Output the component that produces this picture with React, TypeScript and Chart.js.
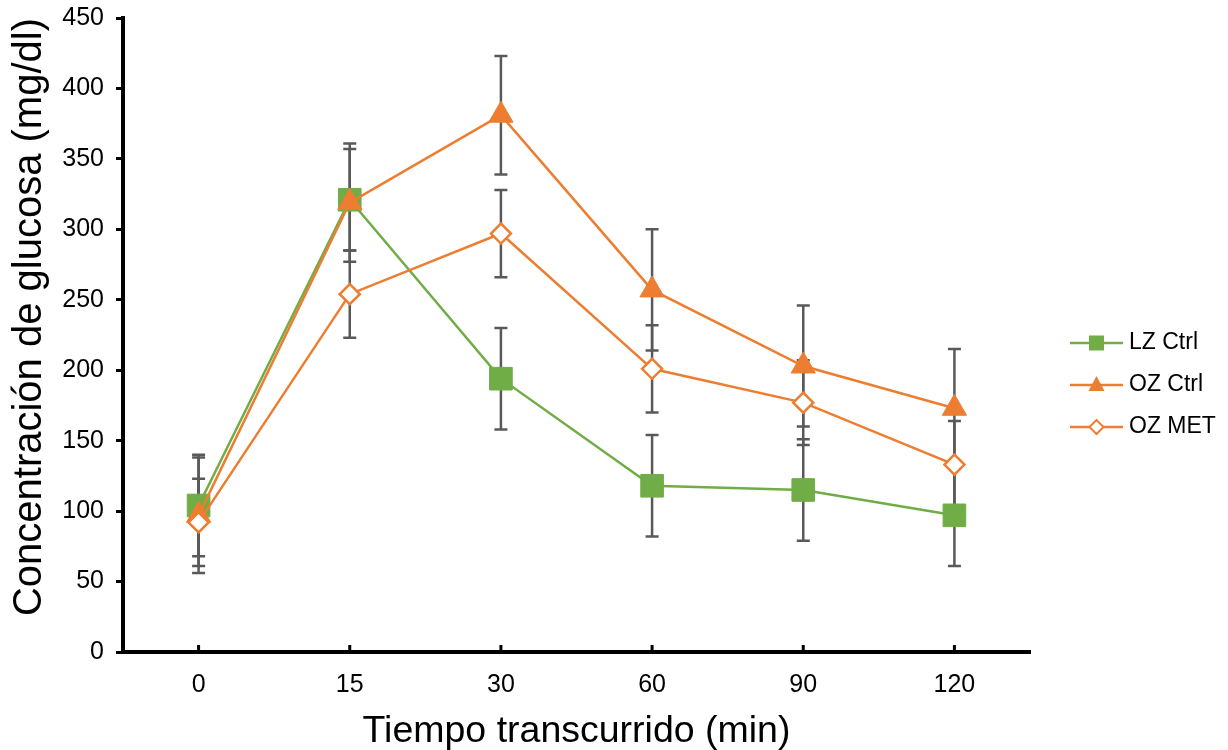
import React, { useEffect, useRef } from 'react';
import { Chart, registerables } from 'chart.js';

Chart.register(...registerables);

// ---- data ----
const categories = ['0', '15', '30', '60', '90', '120'];
const lzCtrl = [104, 321, 194, 118, 115, 97];
const lzCtrlErr = [36, 36, 36, 36, 36, 36];
const ozCtrl = [97, 319, 381, 257, 203, 173];
const ozCtrlErr = [41, 42, 42, 43, 43, 42];
const ozMet = [92, 254, 297, 201, 177, 133];
const ozMetErr = [31, 31, 31, 31, 30, 31];
const seriesLabels = ['LZ Ctrl', 'OZ Ctrl', 'OZ MET'];
const yMin = 0;
const yMax = 450;
const yStep = 50;

const GREEN = '#70AD47';
const ORANGE = '#ED7D31';
const FONT = "'Liberation Sans', Arial, sans-serif";

const errorBarPlugin = {
  id: 'errorBars',
  beforeDatasetsDraw(chart: any) {
    const ctx = chart.ctx;
    const ys = chart.scales.y;
    chart.data.datasets.forEach((ds: any, i: number) => {
      const errs = ds.errors;
      if (!errs) return;
      const meta = chart.getDatasetMeta(i);
      ctx.save();
      ctx.strokeStyle = '#595959';
      ctx.lineWidth = 2.5;
      meta.data.forEach((pt: any, j: number) => {
        const v = ds.data[j];
        const e = errs[j];
        const x = pt.x;
        const yt = ys.getPixelForValue(v + e);
        const yb = ys.getPixelForValue(v - e);
        ctx.beginPath();
        ctx.moveTo(x, yt);
        ctx.lineTo(x, yb);
        ctx.moveTo(x - 6.5, yt);
        ctx.lineTo(x + 6.5, yt);
        ctx.moveTo(x - 6.5, yb);
        ctx.lineTo(x + 6.5, yb);
        ctx.stroke();
      });
      ctx.restore();
    });
  },
};

const innerTickPlugin = {
  id: 'innerTicks',
  afterDraw(chart: any) {
    const ctx = chart.ctx;
    const xs = chart.scales.x;
    const bottom = chart.chartArea.bottom;
    ctx.save();
    ctx.strokeStyle = '#000';
    ctx.lineWidth = 3;
    xs.ticks.forEach((_t: any, i: number) => {
      const x = xs.getPixelForTick(i);
      ctx.beginPath();
      ctx.moveTo(x, bottom);
      ctx.lineTo(x, bottom - 7);
      ctx.stroke();
    });
    ctx.restore();
  },
};

const legendPlugin = {
  id: 'customLegend',
  afterDraw(chart: any) {
    const ctx = chart.ctx;
    const x0 = 1070;
    const x1 = 1123;
    const textX = 1129;
    const rows = [343, 385, 427];
    ctx.save();
    chart.data.datasets.forEach((ds: any, i: number) => {
      const y = rows[i];
      const cx = (x0 + x1) / 2;
      ctx.strokeStyle = ds.borderColor;
      ctx.lineWidth = 2.5;
      ctx.beginPath();
      ctx.moveTo(x0, y);
      ctx.lineTo(x1, y);
      ctx.stroke();
      ctx.beginPath();
      if (ds.pointStyle === 'rect') {
        ctx.fillStyle = ds.pointBackgroundColor;
        ctx.fillRect(cx - 7.5, y - 7.5, 15, 15);
      } else if (ds.pointStyle === 'triangle') {
        ctx.fillStyle = ds.pointBackgroundColor;
        ctx.moveTo(cx, y - 9);
        ctx.lineTo(cx + 8, y + 6);
        ctx.lineTo(cx - 8, y + 6);
        ctx.closePath();
        ctx.fill();
      } else {
        ctx.fillStyle = ds.pointBackgroundColor;
        ctx.strokeStyle = ds.pointBorderColor;
        ctx.lineWidth = 2;
        ctx.moveTo(cx, y - 7);
        ctx.lineTo(cx + 7, y);
        ctx.lineTo(cx, y + 7);
        ctx.lineTo(cx - 7, y);
        ctx.closePath();
        ctx.fill();
        ctx.stroke();
      }
      ctx.fillStyle = '#000';
      ctx.font = `23px ${FONT}`;
      ctx.textBaseline = 'middle';
      ctx.textAlign = 'left';
      ctx.fillText(ds.label, textX, y);
    });
    ctx.restore();
  },
};

export default function App() {
  const ref = useRef<HTMLCanvasElement | null>(null);

  useEffect(() => {
    if (!ref.current) return;
    const chart = new Chart(ref.current, {
      type: 'line',
      data: {
        labels: categories,
        datasets: [
          {
            label: seriesLabels[0],
            data: lzCtrl,
            errors: lzCtrlErr,
            borderColor: GREEN,
            backgroundColor: GREEN,
            borderWidth: 2.5,
            pointStyle: 'rect',
            pointRadius: 16,
            pointBackgroundColor: GREEN,
            pointBorderColor: GREEN,
            pointBorderWidth: 1,
            tension: 0,
            order: 3,
          } as any,
          {
            label: seriesLabels[1],
            data: ozCtrl,
            errors: ozCtrlErr,
            borderColor: ORANGE,
            backgroundColor: ORANGE,
            borderWidth: 2.5,
            pointStyle: 'triangle',
            pointRadius: 14,
            pointBackgroundColor: ORANGE,
            pointBorderColor: ORANGE,
            pointBorderWidth: 1,
            tension: 0,
            order: 2,
          } as any,
          {
            label: seriesLabels[2],
            data: ozMet,
            errors: ozMetErr,
            borderColor: ORANGE,
            backgroundColor: '#ffffff',
            borderWidth: 2.5,
            pointStyle: 'rectRot',
            pointRadius: 10,
            pointBackgroundColor: '#ffffff',
            pointBorderColor: ORANGE,
            pointBorderWidth: 2.5,
            tension: 0,
            order: 1,
          } as any,
        ],
      },
      options: {
        animation: false,
        responsive: false,
        devicePixelRatio: 1,
        layout: { padding: { top: 18, right: 198, bottom: 0, left: 0 } },
        plugins: {
          legend: { display: false },
          tooltip: { enabled: false },
        },
        scales: {
          x: {
            type: 'category',
            offset: true,
            grid: { display: false },
            border: { display: true, color: '#000', width: 4 },
            ticks: { color: '#000', font: { family: FONT, size: 25 }, padding: 10 },
            title: {
              display: true,
              text: 'Tiempo transcurrido (min)',
              color: '#000',
              font: { family: FONT, size: 37.5, lineHeight: 1 },
              padding: { top: 0, bottom: 0 },
            },
            afterFit: (s: any) => {
              s.height = 98;
              s.paddingLeft = 0;
              s.paddingRight = 0;
            },
          },
          y: {
            min: yMin,
            max: yMax,
            ticks: { stepSize: yStep, color: '#000', font: { family: FONT, size: 25 }, padding: 12 },
            grid: {
              display: true,
              drawOnChartArea: false,
              drawTicks: true,
              tickLength: 7,
              tickWidth: 3,
              tickColor: '#000',
              color: '#000',
            },
            border: { display: true, color: '#000', width: 4 },
            title: {
              display: true,
              text: 'Concentración de glucosa (mg/dl)',
              color: '#000',
              align: 'end',
              font: { family: FONT, size: 40, lineHeight: 1 },
              padding: { top: 10, bottom: 0 },
            },
            afterFit: (s: any) => {
              s.width = 123;
              s.paddingTop = 0;
              s.paddingBottom = 0;
            },
          },
        },
      } as any,
      plugins: [errorBarPlugin, innerTickPlugin, legendPlugin],
    });
    return () => chart.destroy();
  }, []);

  return (
    <div style={{ position: 'fixed', left: 0, top: 0, width: 1228, height: 750, background: '#fff' }}>
      <canvas ref={ref} width={1228} height={750} style={{ display: 'block', width: 1228, height: 750 }} />
    </div>
  );
}
